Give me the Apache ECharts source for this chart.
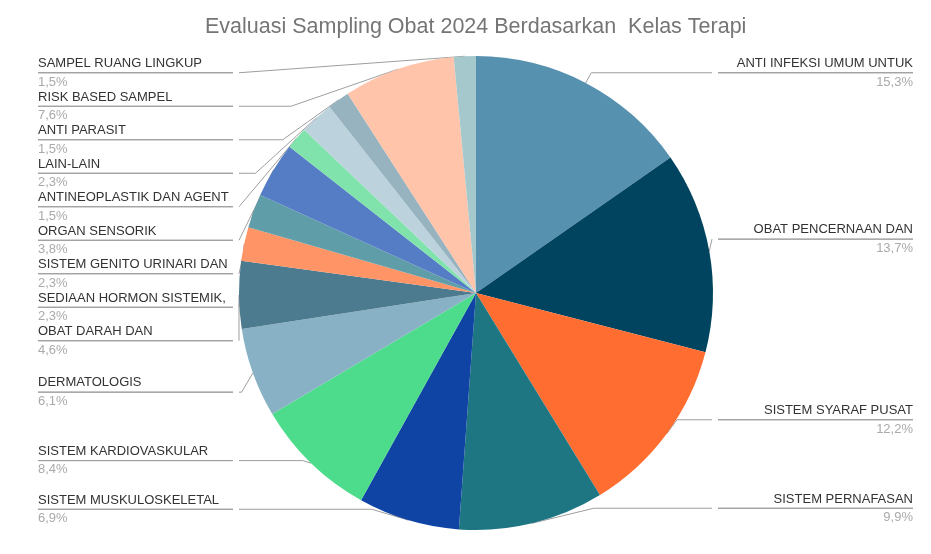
<!DOCTYPE html>
<html>
<head>
<meta charset="utf-8">
<script src="https://cdn.jsdelivr.net/npm/echarts@6/dist/echarts.min.js"></script>
<style>
  html, body { margin: 0; padding: 0; background: #fff; }
  #chart { width: 931px; height: 554px; }
</style>
</head>
<body>
<div id="chart"></div>
<script>
// kelas terapi, urutan searah jarum jam dari atas
const categories = [
  'ANTI INFEKSI UMUM UNTUK',
  'OBAT PENCERNAAN DAN',
  'SISTEM SYARAF PUSAT',
  'SISTEM PERNAFASAN',
  'SISTEM MUSKULOSKELETAL',
  'SISTEM KARDIOVASKULAR',
  'DERMATOLOGIS',
  'OBAT DARAH DAN',
  'SEDIAAN HORMON SISTEMIK,',
  'SISTEM GENITO URINARI DAN',
  'ORGAN SENSORIK',
  'ANTINEOPLASTIK DAN AGENT',
  'LAIN-LAIN',
  'ANTI PARASIT',
  'RISK BASED SAMPEL',
  'SAMPEL RUANG LINGKUP'
]
const percents = [15.3, 13.7, 12.2, 9.9, 6.9, 8.4, 6.1, 4.6, 2.3, 2.3, 3.8, 1.5, 2.3, 1.5, 7.6, 1.5]
const colors = [
  '#5791b0', '#00445f', '#ff6d31', '#1e7683', '#0f44a5', '#4ddc8b',
  '#88b1c5', '#4c7a8f', '#ff9466', '#5f9ea8', '#557dc6', '#80e3ab',
  '#bcd2dd', '#96b3bf', '#ffc4aa', '#a5c8cd'
]

const chart = echarts.init(document.getElementById('chart'))

const option = {
  title: {
    text: 'Evaluasi Sampling Obat 2024 Berdasarkan  Kelas Terapi',
    left: 200,
    top: 11,
    textStyle: {
      fontFamily: 'Liberation Sans',
      fontSize: 21.5,
      fontWeight: 'normal',
      color: '#757575'
    }
  },
  series: [
    {
      type: 'pie',
      left: 20,
      right: 0,
      top: 56,
      bottom: 28,
      center: [456, 237],
      radius: 237,
      startAngle: 90,
      clockwise: true,
      silent: true,
      animation: false,
      label: {
        show: true,
        alignTo: 'edge',
        edgeDistance: 18,
        width: 195,
        overflow: 'none',
        fontFamily: 'Liberation Sans',
        formatter: function (p) {
          return '{n|' + p.name + '}\n{hr|}\n{p|' + p.value.toFixed(1).replace('.', ',') + '%}'
        },
        rich: {
          n: { fontSize: 13, color: '#333', lineHeight: 18.5, fontFamily: 'Liberation Sans' },
          hr: { width: '100%', height: 0, borderWidth: 1, borderColor: '#9e9e9e' },
          p: { fontSize: 13, color: '#aaa', lineHeight: 18.5, fontFamily: 'Liberation Sans' }
        }
      },
      labelLine: {
        show: true,
        length: 12,
        length2: 10,
        lineStyle: { color: '#9e9e9e', width: 1 }
      },
      data: categories.map(function (name, i) {
        return { name: name, value: percents[i], itemStyle: { color: colors[i] } }
      })
    }
  ]
}

chart.setOption(option)
</script>
</body>
</html>
